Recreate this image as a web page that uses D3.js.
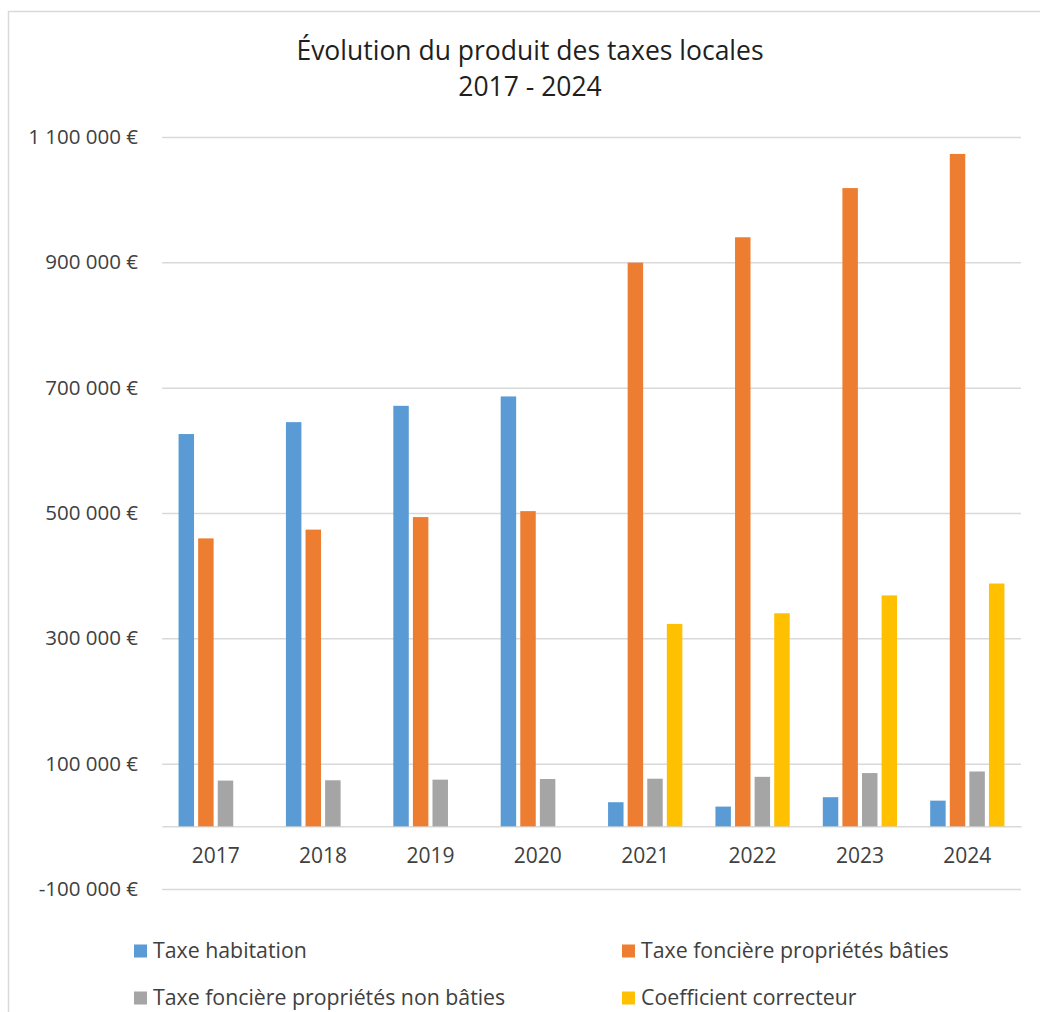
<!DOCTYPE html>
<html>
<head>
<meta charset="utf-8">
<script src="https://cdn.jsdelivr.net/npm/d3@7"></script>
<style>
  html, body { margin: 0; padding: 0; background: #fff; }
  svg { display: block; font-family: "Open Sans", sans-serif; }
</style>
</head>
<body>
<svg id="chart" width="1040" height="1012"></svg>
<script>
// Local tax revenue per year (euros)
const years = ["2017", "2018", "2019", "2020", "2021", "2022", "2023", "2024"];
const seriesNames = [
  "Taxe habitation",
  "Taxe foncière propriétés bâties",
  "Taxe foncière propriétés non bâties",
  "Coefficient correcteur"
];
const taxeHabitation = [626000, 645000, 671000, 686000, 38500, 31500, 46500, 41000];
const foncierBati = [459500, 473500, 493500, 503000, 899500, 940000, 1018500, 1073000];
const foncierNonBati = [73000, 73500, 74500, 75500, 76000, 79000, 85000, 87500];
const coefCorrecteur = [null, null, null, null, 323000, 340000, 368500, 387500];
const yTicks = [-100000, 100000, 300000, 500000, 700000, 900000, 1100000];
const colors = ["#5B9BD5", "#ED7D31", "#A5A5A5", "#FFC000"];

const seriesValues = [taxeHabitation, foncierBati, foncierNonBati, coefCorrecteur];

const svg = d3.select("#chart");

// chart area frame
svg.append("rect")
  .attr("x", 8.5).attr("y", 11.5)
  .attr("width", 1060).attr("height", 1040)
  .attr("fill", "none").attr("stroke", "#D9D9D9").attr("stroke-width", 1.5);

// title
const title = svg.append("text")
  .attr("text-anchor", "middle")
  .attr("fill", "#1F1F1F")
  .attr("font-size", 26.5);
title.append("tspan").attr("x", 530).attr("y", 60).text("Évolution du produit des taxes locales");
title.append("tspan").attr("x", 530).attr("y", 96).text("2017 - 2024");

const plotLeft = 162, plotRight = 1021;

const y = d3.scaleLinear().domain([-100000, 1100000]).range([889, 137]);
const x = d3.scaleBand().domain(years).range([plotLeft, plotRight]).padding(0);
const xs = d3.scaleBand().domain(d3.range(4))
  .range([14.5, x.bandwidth() - 14.5]).paddingInner(0.21).paddingOuter(0.105);

const fmt = v => {
  const s = d3.format(",")(Math.abs(v)).replace(/,/g, " ");
  return (v < 0 ? "-" : "") + s + " €";
};

// horizontal gridlines + y axis labels
const yAxis = d3.axisLeft(y).tickValues(yTicks).tickSize(-(plotRight - plotLeft)).tickFormat(fmt).tickPadding(24);
const gY = svg.append("g").attr("transform", `translate(${plotLeft},0)`).call(yAxis);
gY.select(".domain").remove();
gY.selectAll(".tick line").attr("stroke", "#D9D9D9").attr("stroke-width", 1.5);
gY.selectAll(".tick text").attr("fill", "#404040").attr("font-size", 20.5)
  .attr("font-family", "Open Sans, sans-serif");

// zero baseline with category labels
const xAxis = d3.axisBottom(x).tickSize(0).tickPadding(21.5);
const gX = svg.append("g").attr("transform", `translate(0,${y(0)})`).call(xAxis);
gX.select(".domain").attr("stroke", "#D9D9D9").attr("stroke-width", 1.5);
gX.selectAll(".tick text").attr("fill", "#404040").attr("font-size", 21)
  .attr("font-family", "Open Sans, sans-serif");

// bars
const barData = [];
years.forEach((yr, i) => {
  seriesValues.forEach((arr, s) => {
    if (arr[i] != null) barData.push({ year: yr, s, v: arr[i] });
  });
});
svg.append("g").selectAll("rect").data(barData).join("rect")
  .attr("x", d => x(d.year) + xs(d.s))
  .attr("width", xs.bandwidth())
  .attr("y", d => y(Math.max(0, d.v)))
  .attr("height", d => Math.abs(y(d.v) - y(0)))
  .attr("fill", d => colors[d.s]);

// legend
const legendPos = [[134, 951], [622, 951], [134, 998], [622, 998]];
const lg = svg.append("g").selectAll("g").data(seriesNames).join("g")
  .attr("transform", (d, i) => `translate(${legendPos[i][0]},${legendPos[i][1]})`);
lg.append("rect").attr("x", 0).attr("y", -6.5).attr("width", 13).attr("height", 13)
  .attr("fill", (d, i) => colors[i]);
lg.append("text").attr("x", 19).attr("y", 0).attr("dy", "0.35em")
  .attr("fill", "#404040").attr("font-size", 21.3).text(d => d);
</script>
</body>
</html>
